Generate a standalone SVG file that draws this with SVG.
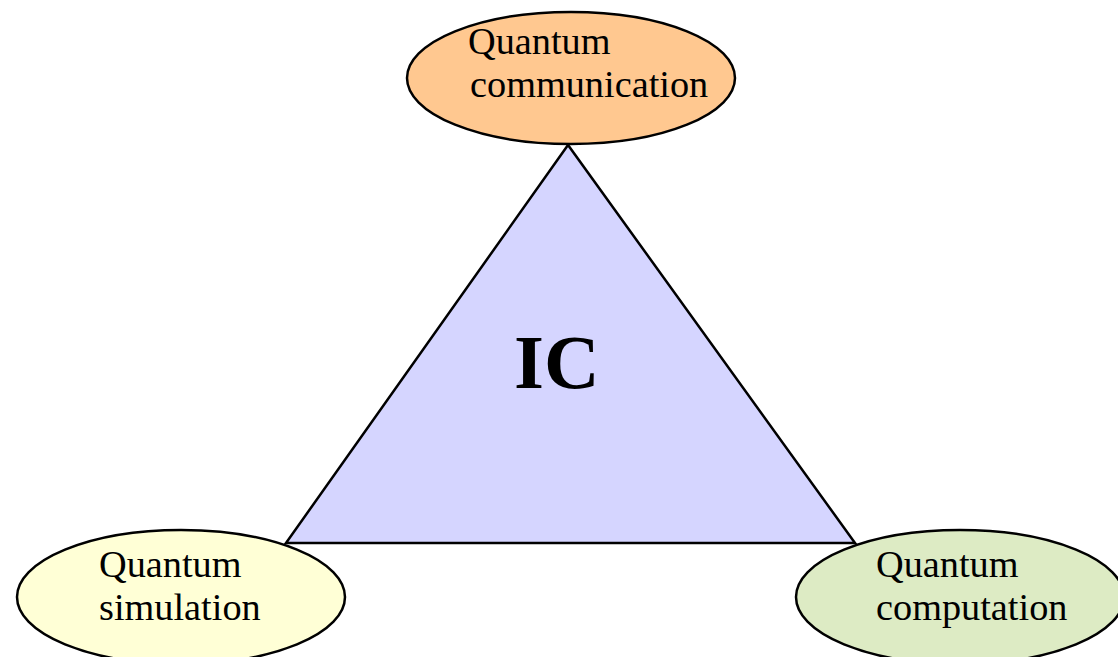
<svg xmlns="http://www.w3.org/2000/svg" width="1118" height="657" viewBox="0 0 1118 657">
<style>
.n{stroke:#000;stroke-width:2.5}
.t{font-family:"Liberation Serif","Times New Roman",serif;font-size:38.3px;fill:#000}
.ic{font-family:"Liberation Serif","Times New Roman",serif;font-size:77px;font-weight:bold;fill:#000}
</style>
<rect width="1118" height="657" fill="#fff"/>
<g id="ic">
<polygon class="n" points="568,145 286,543 855,543" fill="#D5D5FF" stroke-width="2"/>
<text class="ic" x="514" y="388">IC</text>
</g>
<g id="communication">
<ellipse class="n" cx="571" cy="78" rx="164" ry="66" fill="#FFC890"/>
<text class="t" x="468" y="54">Quantum</text>
<text class="t" x="470" y="97">communication</text>
</g>
<g id="simulation">
<ellipse class="n" cx="181" cy="597" rx="164" ry="67" fill="#FFFFD6"/>
<text class="t" x="99" y="577">Quantum</text>
<text class="t" x="99" y="620">simulation</text>
</g>
<g id="computation">
<ellipse class="n" cx="960" cy="597" rx="164" ry="67" fill="#DDEBC4"/>
<text class="t" x="876" y="577">Quantum</text>
<text class="t" x="876" y="620">computation</text>
</g>
<g id="connectors"></g>
</svg>
